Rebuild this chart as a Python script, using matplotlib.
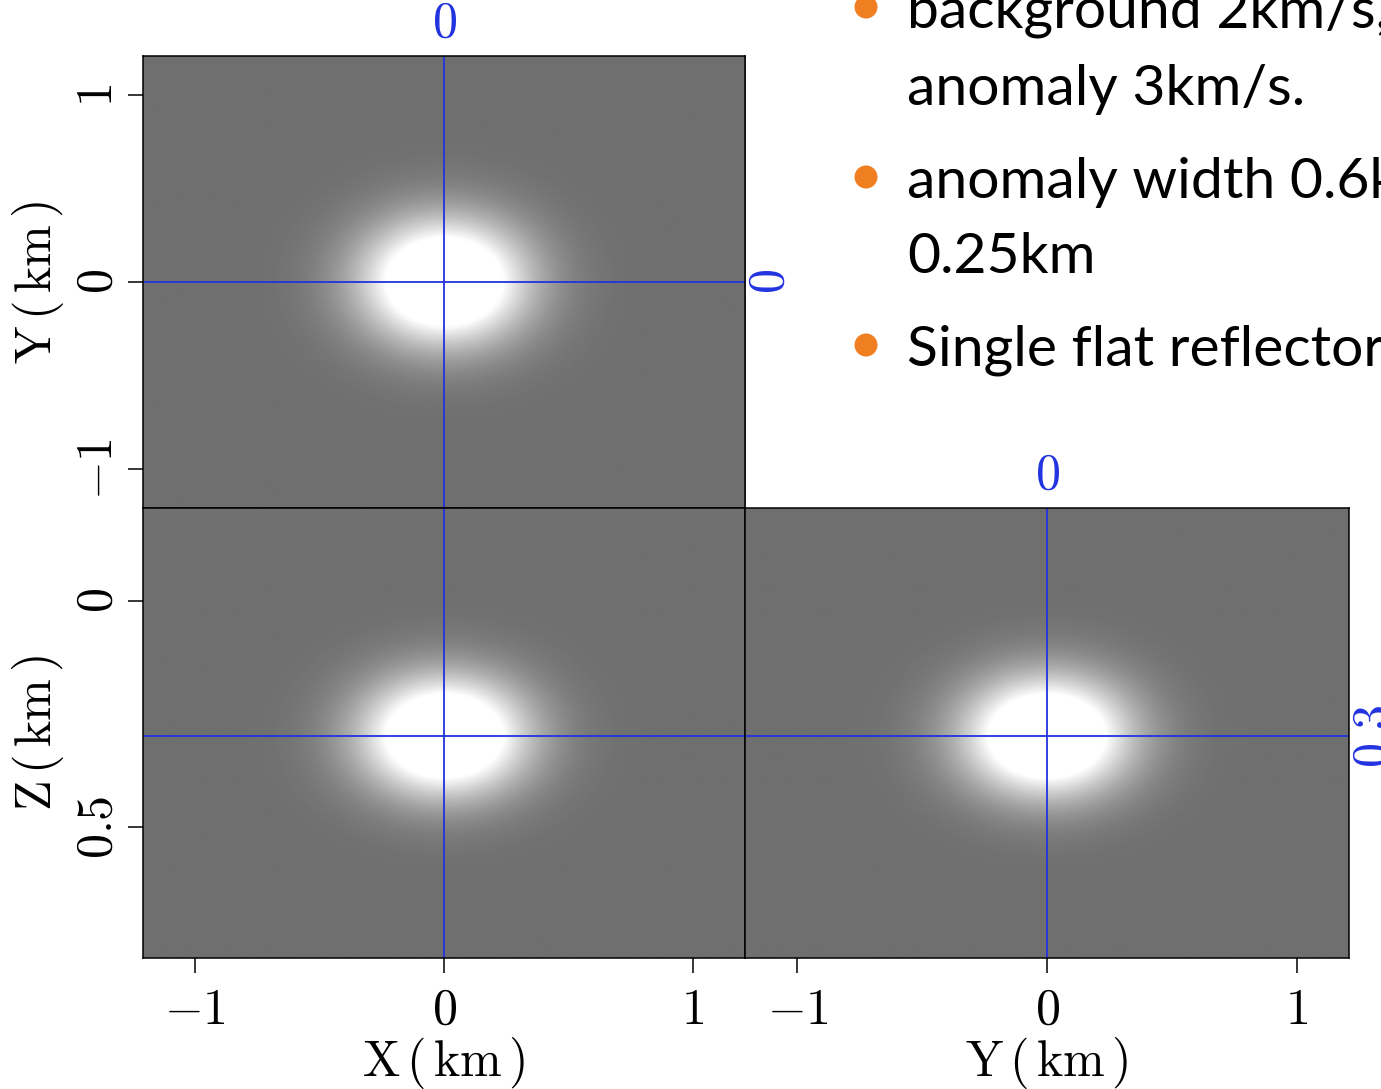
import numpy as np
import matplotlib
matplotlib.use('Agg')
import matplotlib.pyplot as plt
from matplotlib.colors import Normalize
from matplotlib.patches import Circle

# velocity model (km/s, km)
v_background = 2.0
v_anomaly = 3.0
anomaly_center = (0.0, 0.0, 0.3)
anomaly_radius_h = 0.33
anomaly_radius_z = 0.13

# slice positions and plot extents
slice_x, slice_y, slice_z = 0.0, 0.0, 0.3
x_range = (-1.21, 1.21)
y_range = (-1.21, 1.21)
z_range = (-0.205, 0.79)
x_ticks = [-1, 0, 1]
y_ticks = [-1, 0, 1]
z_ticks = [0, 0.5]

bullet_lines = [
    ['background 2km/s,', 'anomaly 3km/s.'],
    ['anomaly width 0.6km,', '0.25km'],
    ['Single flat reflector'],
]

plt.rcParams['mathtext.fontset'] = 'cm'
BLUE = '#2233e0'
ORANGE = '#f07f22'
TICK_FS = 36
LABEL_FS = 36


def velocity(x, y, z):
    cx, cy, cz = anomaly_center
    r2 = ((x - cx) / anomaly_radius_h) ** 2 + ((y - cy) / anomaly_radius_h) ** 2 \
        + ((z - cz) / anomaly_radius_z) ** 2
    return v_background + (v_anomaly - v_background) * np.exp(-r2)


def m(v):
    return f'${v:g}$'


n = 400
xs = np.linspace(*x_range, n)
ys = np.linspace(*y_range, n)
zs = np.linspace(*z_range, n)

XX, YY = np.meshgrid(xs, ys)
v_xy = velocity(XX, YY, slice_z)
XX, ZZ = np.meshgrid(xs, zs)
v_xz = velocity(XX, slice_y, ZZ)
YY, ZZ = np.meshgrid(ys, zs)
v_yz = velocity(slice_x, YY, ZZ)

# grey scale clipped so the core saturates white
clip_top = v_background + 0.6 * (v_anomaly - v_background)
rng = (clip_top - v_background) / (1 - 0.435)
norm = Normalize(vmin=clip_top - rng, vmax=clip_top, clip=True)

fig = plt.figure(figsize=(13.81, 10.89), dpi=100)

ax_txt = fig.add_axes([0, 0, 1, 1])
ax_txt.set_xlim(0, 1381)
ax_txt.set_ylim(1089, 0)
ax_txt.axis('off')

ax_xy = fig.add_axes([0.10355, 0.53352, 0.43595, 0.41506])
ax_xz = fig.add_axes([0.10355, 0.12029, 0.43595, 0.41323])
ax_yz = fig.add_axes([0.5395, 0.12029, 0.43733, 0.41323])

ax_xy.imshow(v_xy, extent=[*x_range, *y_range], origin='lower', cmap='gray',
             norm=norm, aspect='auto', interpolation='bilinear')
ax_xz.imshow(v_xz, extent=[*x_range, z_range[0], z_range[1]], origin='lower',
             cmap='gray', norm=norm, aspect='auto', interpolation='bilinear')
ax_yz.imshow(v_yz, extent=[*y_range, z_range[0], z_range[1]], origin='lower',
             cmap='gray', norm=norm, aspect='auto', interpolation='bilinear')

ax_xy.set_xlim(*x_range)
ax_xy.set_ylim(*y_range)
for ax in (ax_xz, ax_yz):
    ax.set_xlim(*x_range)
    ax.set_ylim(z_range[1], z_range[0])

for ax in (ax_xy, ax_xz, ax_yz):
    for sp in ax.spines.values():
        sp.set_linewidth(1.1)
    ax.tick_params(direction='out', length=11, width=1.1, labelsize=TICK_FS, pad=9)
for ax in (ax_xy, ax_xz):
    ax.tick_params(axis='y', pad=4)

# crosshairs
ax_xy.axvline(slice_x, color=BLUE, lw=1.3)
ax_xy.axhline(slice_y, color=BLUE, lw=1.3)
ax_xz.axvline(slice_x, color=BLUE, lw=1.3)
ax_xz.axhline(slice_z, color=BLUE, lw=1.3)
ax_yz.axvline(slice_y, color=BLUE, lw=1.3)
ax_yz.axhline(slice_z, color=BLUE, lw=1.3)

# ticks
ax_xy.set_xticks([])
ax_xy.set_yticks(y_ticks)
ax_xy.set_yticklabels([m(t) for t in y_ticks], rotation=90, va='center')
ax_xz.set_yticks(z_ticks)
ax_xz.set_yticklabels([m(t) for t in z_ticks], rotation=90, va='center')
ax_xz.set_xticks(x_ticks)
ax_xz.set_xticklabels([m(t) for t in x_ticks])
ax_yz.set_yticks([])
ax_yz.set_xticks(y_ticks)
ax_yz.set_xticklabels([m(t) for t in y_ticks])

ax_xy.set_ylabel(r'$\mathrm{Y\,(\,km\,)}$', fontsize=LABEL_FS)
ax_xz.set_ylabel(r'$\mathrm{Z\,(\,km\,)}$', fontsize=LABEL_FS)
ax_xz.set_xlabel(r'$\mathrm{X\,(\,km\,)}$', fontsize=LABEL_FS)
ax_yz.set_xlabel(r'$\mathrm{Y\,(\,km\,)}$', fontsize=LABEL_FS)
ax_xy.yaxis.set_label_coords(-0.128, 0.5)
ax_xz.yaxis.set_label_coords(-0.128, 0.5)
ax_xz.xaxis.set_label_coords(0.5, -0.17)
ax_yz.xaxis.set_label_coords(0.5, -0.17)

# slice position labels
lab = dict(color=BLUE, fontsize=TICK_FS, ha='center', va='center',
           textcoords='offset points', annotation_clip=False)
ax_xy.annotate(m(slice_x), xy=(slice_x, 1), xycoords=('data', 'axes fraction'),
               xytext=(0, 24), **lab)
ax_xy.annotate(m(slice_y), xy=(1, slice_y), xycoords=('axes fraction', 'data'),
               xytext=(18, 0), rotation=90, **lab)
ax_yz.annotate(m(slice_y), xy=(slice_y, 1), xycoords=('data', 'axes fraction'),
               xytext=(0, 24), **lab)
ax_yz.annotate(m(slice_z), xy=(1, slice_z), xycoords=('axes fraction', 'data'),
               xytext=(18, 0), rotation=90, **lab)

# slide bullet text
baselines = [[28, 105], [198, 273], [366]]
dots = [7, 177, 345]
for lines, bases, dy in zip(bullet_lines, baselines, dots):
    ax_txt.add_patch(Circle((866, dy), 11.5, color=ORANGE, lw=0))
    for line, b in zip(lines, bases):
        ax_txt.text(907, b, line, fontsize=41, family='Lato', va='baseline',
                    ha='left', color='black')

fig.savefig('out.png', dpi=100)
